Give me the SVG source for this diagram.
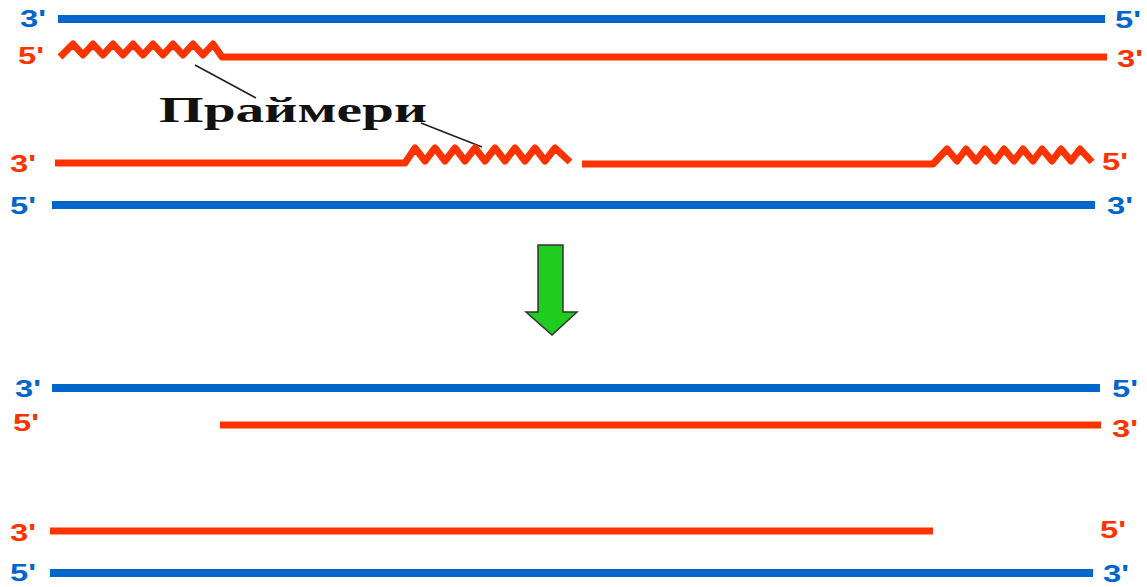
<svg xmlns="http://www.w3.org/2000/svg" width="1147" height="587" viewBox="0 0 1147 587">
<style>
.b{stroke:#0066CC;stroke-width:8;fill:none}
.r{stroke:#FF3300;stroke-width:7;fill:none;stroke-linejoin:round}
.tb{fill:#0066CC;font-family:"Liberation Sans",Arial,sans-serif;font-weight:bold;font-size:24px}
.tr{fill:#FF3300;font-family:"Liberation Sans",Arial,sans-serif;font-weight:bold;font-size:24px}
.lead{stroke:#222;stroke-width:1.6;fill:none}
</style>
<rect width="1147" height="587" fill="#fff"/>
<g id="connectors">
<line class="lead" x1="195" y1="65" x2="256" y2="98"/>
<line class="lead" x1="421" y1="123" x2="482" y2="147"/>
</g>
<g id="strand-top-1">
<line class="b" x1="58" y1="19" x2="1105" y2="19"/>
<text class="tb" x="20" y="27" textLength="26" lengthAdjust="spacingAndGlyphs">3'</text>
<text class="tb" x="1115" y="28" textLength="26" lengthAdjust="spacingAndGlyphs">5'</text>
</g>
<g id="strand-top-2">
<polyline class="r" points="60,57 73,44 83,55 93,44 103,55 113,44 123,55 133,44 143,55 153,44 163,55 173,44 183,55 193,44 203,55 213,44 222,57 1107,57"/>
<text class="tr" x="18" y="64" textLength="26" lengthAdjust="spacingAndGlyphs">5'</text>
<text class="tr" x="1117" y="67" textLength="26" lengthAdjust="spacingAndGlyphs">3'</text>
</g>
<g id="label-primers">
<text x="159" y="122" font-family="'Liberation Serif','Times New Roman',serif" font-weight="bold" font-size="36" textLength="268" lengthAdjust="spacingAndGlyphs" fill="#111">Праймери</text>
</g>
<g id="strand-top-3">
<polyline class="r" points="55,163 405,163 415,148 425,161 435,148 445,161 455,148 465,161 475,148 485,161 495,148 505,161 515,148 525,161 535,148 545,161 555,148 570,162"/>
<polyline class="r" points="582,164 933,164 947,149 957,161 966,149 976,161 985,149 995,161 1004,149 1014,161 1023,149 1033,161 1042,149 1052,161 1061,149 1071,161 1080,149 1092,162"/>
<text class="tr" x="10" y="172" textLength="26" lengthAdjust="spacingAndGlyphs">3'</text>
<text class="tr" x="1102" y="170" textLength="26" lengthAdjust="spacingAndGlyphs">5'</text>
</g>
<g id="strand-top-4">
<line class="b" x1="52" y1="205" x2="1095" y2="205"/>
<text class="tb" x="10" y="214" textLength="26" lengthAdjust="spacingAndGlyphs">5'</text>
<text class="tb" x="1107" y="214" textLength="26" lengthAdjust="spacingAndGlyphs">3'</text>
</g>
<g id="arrow">
<polygon points="538,245 563,245 563,312 577,312 552,335 526,312 538,312" fill="#1FCC1F" stroke="#333" stroke-width="1.5" stroke-linejoin="miter"/>
</g>
<g id="strand-bottom-1">
<line class="b" x1="52" y1="388" x2="1100" y2="388"/>
<text class="tb" x="15" y="397" textLength="26" lengthAdjust="spacingAndGlyphs">3'</text>
<text class="tb" x="1112" y="397" textLength="26" lengthAdjust="spacingAndGlyphs">5'</text>
</g>
<g id="strand-bottom-2">
<line class="r" x1="220" y1="425" x2="1101" y2="425"/>
<text class="tr" x="13" y="431" textLength="26" lengthAdjust="spacingAndGlyphs">5'</text>
<text class="tr" x="1112" y="437" textLength="26" lengthAdjust="spacingAndGlyphs">3'</text>
</g>
<g id="strand-bottom-3">
<line class="r" x1="50" y1="531" x2="933" y2="531"/>
<text class="tr" x="10" y="541" textLength="26" lengthAdjust="spacingAndGlyphs">3'</text>
<text class="tr" x="1100" y="538" textLength="26" lengthAdjust="spacingAndGlyphs">5'</text>
</g>
<g id="strand-bottom-4">
<line class="b" x1="50" y1="573" x2="1093" y2="573"/>
<text class="tb" x="10" y="581" textLength="26" lengthAdjust="spacingAndGlyphs">5'</text>
<text class="tb" x="1103" y="582" textLength="26" lengthAdjust="spacingAndGlyphs">3'</text>
</g>
</svg>
